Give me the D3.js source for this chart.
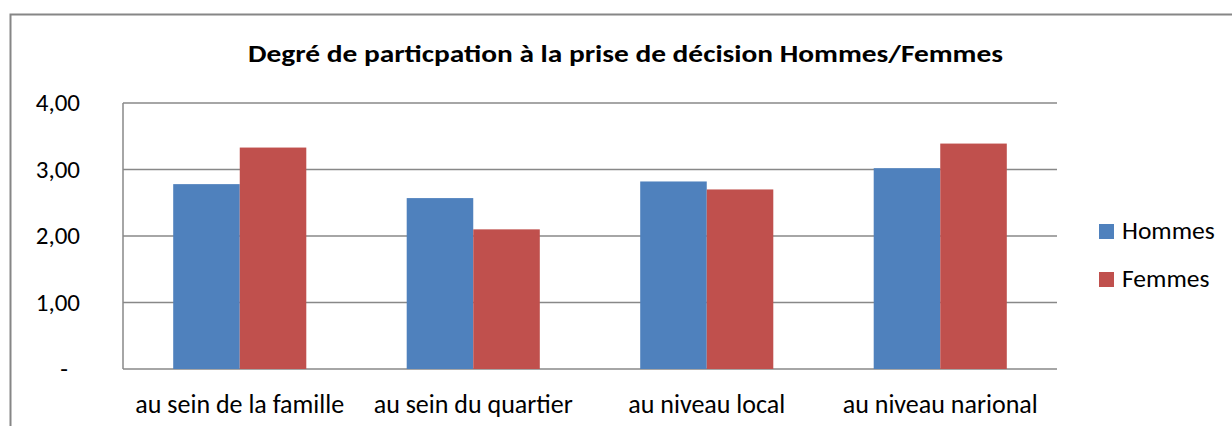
<!DOCTYPE html>
<html>
<head>
<meta charset="utf-8">
<script src="https://cdn.jsdelivr.net/npm/d3@7"></script>
<style>
  body { margin: 0; background: #fff; }
  text { font-family: Carlito, Calibri, Lato, "Open Sans", sans-serif; fill: #000; }
</style>
</head>
<body>
<div id="chart"></div>
<script>
// chart data
var categories = ["au sein de la famille", "au sein du quartier", "au niveau local", "au niveau narional"];
var series = ["Hommes", "Femmes"];
var hommes = [2.78, 2.57, 2.82, 3.02];
var femmes = [3.33, 2.10, 2.70, 3.39];
var yTicks = [0, 1, 2, 3, 4];
var colors = ["#4f81bd", "#c0504d"];

var W = 1232, H = 426;
var plot = {left: 123, top: 103, right: 1057, bottom: 369};

var svg = d3.select("#chart").append("svg")
    .attr("width", W)
    .attr("height", H);

// outer chart border (bottom and right run off the picture)
svg.append("path")
    .attr("d", "M10.5," + H + " V14.5 H" + W)
    .attr("fill", "none")
    .attr("stroke", "#868686")
    .attr("stroke-width", 2);

svg.append("text")
    .attr("x", 248)
    .attr("y", 62)
    .attr("textLength", 755)
    .attr("lengthAdjust", "spacingAndGlyphs")
    .style("font-size", "25px")
    .style("font-weight", "bold")
    .text("Degré de particpation à la prise de décision Hommes/Femmes");

var x0 = d3.scaleBand()
    .domain(categories)
    .range([plot.left, plot.right])
    .paddingInner(0.43)
    .paddingOuter(0.215);

var x1 = d3.scaleBand()
    .domain(series)
    .range([0, x0.bandwidth()]);

var y = d3.scaleLinear()
    .domain([0, 4])
    .range([plot.bottom, plot.top]);

// gridlines
svg.append("g")
    .selectAll("line")
    .data(yTicks)
    .enter().append("line")
    .attr("x1", plot.left)
    .attr("x2", plot.right)
    .attr("y1", function(d) { return y(d); })
    .attr("y2", function(d) { return y(d); })
    .attr("stroke", "#888")
    .attr("stroke-width", 1.5);

// left axis line
svg.append("line")
    .attr("x1", plot.left).attr("x2", plot.left)
    .attr("y1", plot.top).attr("y2", plot.bottom)
    .attr("stroke", "#888")
    .attr("stroke-width", 1.5);

// y tick labels
svg.append("g")
    .selectAll("text")
    .data(yTicks)
    .enter().append("text")
    .attr("x", function(d) { return d == 0 ? 64 : 80; })
    .attr("y", function(d) { return y(d) + 8; })
    .attr("text-anchor", function(d) { return d == 0 ? "middle" : "end"; })
    .style("font-size", "25px")
    .text(function(d) { return d == 0 ? "-" : d.toFixed(2).replace(".", ","); });

// bars
var rows = categories.map(function(c, i) {
    return {cat: c, values: [
        {key: "Hommes", v: hommes[i]},
        {key: "Femmes", v: femmes[i]}
    ]};
});

var groups = svg.append("g").selectAll("g")
    .data(rows)
    .enter().append("g")
    .attr("transform", function(d) { return "translate(" + x0(d.cat) + ",0)"; });

groups.selectAll("rect")
    .data(function(d) { return d.values; })
    .enter().append("rect")
    .attr("x", function(d) { return x1(d.key); })
    .attr("y", function(d) { return y(d.v); })
    .attr("width", x1.bandwidth())
    .attr("height", function(d) { return plot.bottom - y(d.v); })
    .attr("fill", function(d, i) { return colors[i]; });

// category labels
svg.append("g")
    .selectAll("text")
    .data(categories)
    .enter().append("text")
    .attr("x", function(d) { return x0(d) + x0.bandwidth() / 2; })
    .attr("y", 413)
    .attr("text-anchor", "middle")
    .style("font-size", "26px")
    .text(function(d) { return d; });

// legend
var legend = svg.append("g").selectAll("g")
    .data(series)
    .enter().append("g")
    .attr("transform", function(d, i) { return "translate(1099," + (224 + i * 48) + ")"; });

legend.append("rect")
    .attr("width", 15)
    .attr("height", 15)
    .attr("fill", function(d, i) { return colors[i]; });

legend.append("text")
    .attr("x", 23)
    .attr("y", 15)
    .style("font-size", "25.5px")
    .text(function(d) { return d; });
</script>
</body>
</html>
